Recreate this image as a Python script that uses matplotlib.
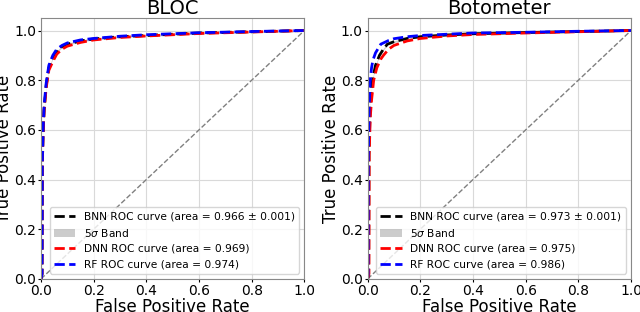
import numpy as np
import matplotlib
matplotlib.use("Agg")
import matplotlib.pyplot as plt

titles = ["BLOC", "Botometer"]
bnn_auc = ["0.966 ± 0.001", "0.973 ± 0.001"]
dnn_auc = ["0.969", "0.975"]
rf_auc = ["0.974", "0.986"]

# BLOC
bloc_bnn_fpr = [0, 0.004, 0.005, 0.008, 0.012, 0.02, 0.03, 0.045, 0.06, 0.08, 0.1, 0.15, 0.2, 0.3, 0.4, 0.5, 0.6, 0.8, 1.0]
bloc_bnn_tpr = [0, 0.02, 0.45, 0.58, 0.68, 0.78, 0.85, 0.89, 0.915, 0.935, 0.945, 0.958, 0.966, 0.975, 0.98, 0.985, 0.99, 0.995, 1.0]
bloc_dnn_fpr = [0, 0.004, 0.005, 0.008, 0.012, 0.02, 0.03, 0.045, 0.06, 0.08, 0.1, 0.15, 0.2, 0.3, 0.4, 0.5, 0.6, 0.8, 1.0]
bloc_dnn_tpr = [0, 0.02, 0.45, 0.58, 0.68, 0.77, 0.84, 0.875, 0.905, 0.925, 0.937, 0.952, 0.962, 0.972, 0.978, 0.983, 0.988, 0.994, 1.0]
bloc_rf_fpr = [0, 0.004, 0.005, 0.008, 0.012, 0.02, 0.03, 0.045, 0.06, 0.08, 0.1, 0.15, 0.2, 0.3, 0.4, 0.5, 0.6, 0.8, 1.0]
bloc_rf_tpr = [0, 0.02, 0.46, 0.6, 0.7, 0.79, 0.86, 0.90, 0.925, 0.94, 0.95, 0.962, 0.968, 0.977, 0.983, 0.987, 0.991, 0.996, 1.0]

# Botometer
bot_bnn_fpr = [0, 0.004, 0.005, 0.01, 0.015, 0.02, 0.03, 0.045, 0.06, 0.075, 0.1, 0.15, 0.2, 0.3, 0.4, 0.6, 0.8, 1.0]
bot_bnn_tpr = [0, 0.02, 0.5, 0.7, 0.77, 0.81, 0.86, 0.9, 0.925, 0.945, 0.955, 0.968, 0.975, 0.982, 0.987, 0.992, 0.996, 1.0]
bot_dnn_fpr = [0, 0.005, 0.006, 0.01, 0.015, 0.023, 0.035, 0.05, 0.06, 0.08, 0.1, 0.15, 0.2, 0.3, 0.4, 0.6, 0.8, 1.0]
bot_dnn_tpr = [0, 0.02, 0.5, 0.65, 0.72, 0.8, 0.85, 0.885, 0.9, 0.925, 0.94, 0.958, 0.968, 0.978, 0.984, 0.99, 0.995, 1.0]
bot_rf_fpr = [0, 0.002, 0.003, 0.006, 0.01, 0.015, 0.02, 0.03, 0.05, 0.08, 0.1, 0.15, 0.2, 0.3, 0.4, 0.6, 0.8, 1.0]
bot_rf_tpr = [0, 0.02, 0.5, 0.7, 0.8, 0.85, 0.88, 0.91, 0.945, 0.96, 0.967, 0.975, 0.98, 0.985, 0.99, 0.993, 0.997, 1.0]

band_halfwidth = [0.004, 0.004]

panels = [
    (bloc_bnn_fpr, bloc_bnn_tpr, bloc_dnn_fpr, bloc_dnn_tpr, bloc_rf_fpr, bloc_rf_tpr),
    (bot_bnn_fpr, bot_bnn_tpr, bot_dnn_fpr, bot_dnn_tpr, bot_rf_fpr, bot_rf_tpr),
]

fig, axes = plt.subplots(1, 2, figsize=(6.4, 3.12), dpi=100)

for i, ax in enumerate(axes):
    bf, bt, df, dt, rf, rt = panels[i]
    bt = np.array(bt)
    ax.plot([0, 1], [0, 1], '--', color='gray', lw=1)
    ax.plot(bf, bt, '--', color='black', lw=2,
            label=f'BNN ROC curve (area = {bnn_auc[i]})')
    ax.fill_between(bf, np.clip(bt - band_halfwidth[i], 0, 1), np.clip(bt + band_halfwidth[i], 0, 1),
                    color='gray', alpha=0.4, lw=0, label=r'5$\sigma$ Band')
    ax.plot(df, dt, '--', color='red', lw=2,
            label=f'DNN ROC curve (area = {dnn_auc[i]})')
    ax.plot(rf, rt, '--', color='blue', lw=2,
            label=f'RF ROC curve (area = {rf_auc[i]})')
    ax.set_xlim(0, 1)
    ax.set_ylim(0, 1.05)
    ax.set_xticks([0, 0.2, 0.4, 0.6, 0.8, 1.0])
    ax.set_yticks([0, 0.2, 0.4, 0.6, 0.8, 1.0])
    ax.tick_params(labelsize=10, pad=1, length=2.5)
    for sp in ax.spines.values():
        sp.set_color('#888888')
    ax.grid(True, color='#d9d9d9', lw=0.8)
    ax.set_xlabel('False Positive Rate', fontsize=12, labelpad=0)
    ax.set_ylabel('True Positive Rate', fontsize=12, labelpad=0.5)
    ax.set_title(titles[i], fontsize=14, pad=3)
    ax.legend(loc='lower right', fontsize=7.7)

plt.subplots_adjust(left=0.064, right=0.986, top=0.942, bottom=0.106, wspace=0.24)
plt.savefig('out.png')
